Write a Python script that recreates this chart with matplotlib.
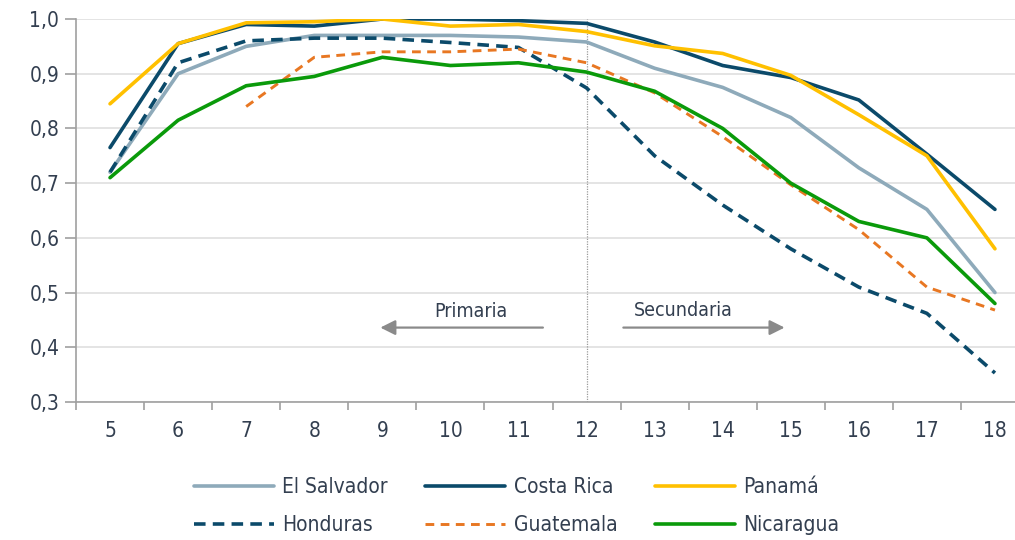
import matplotlib
matplotlib.use('Agg')
import matplotlib.pyplot as plt
import numpy as np

plt.rcParams['font.family'] = ['DejaVu Sans']
plt.rcParams['font.stretch'] = 'condensed'

grades = [5, 6, 7, 8, 9, 10, 11, 12, 13, 14, 15, 16, 17, 18]
el_salvador = [0.72, 0.90, 0.95, 0.97, 0.97, 0.97, 0.967, 0.958, 0.91, 0.875, 0.82, 0.728, 0.652, 0.50]
costa_rica = [0.765, 0.955, 0.99, 0.987, 1.0, 1.0, 0.997, 0.992, 0.958, 0.915, 0.893, 0.852, 0.753, 0.652]
panama = [0.845, 0.955, 0.993, 0.995, 1.0, 0.987, 0.99, 0.977, 0.951, 0.937, 0.897, 0.825, 0.75, 0.58]
honduras = [0.72, 0.92, 0.96, 0.965, 0.965, 0.957, 0.948, 0.874, 0.75, 0.66, 0.58, 0.51, 0.462, 0.353]
guatemala = [None, None, 0.84, 0.93, 0.94, 0.94, 0.945, 0.92, 0.865, 0.785, 0.697, 0.615, 0.51, 0.468]
nicaragua = [0.71, 0.815, 0.878, 0.895, 0.93, 0.915, 0.92, 0.903, 0.868, 0.80, 0.70, 0.63, 0.60, 0.48]

ytick_vals = [0.3, 0.4, 0.5, 0.6, 0.7, 0.8, 0.9, 1.0]
ytick_labels = ['0,3', '0,4', '0,5', '0,6', '0,7', '0,8', '0,9', '1,0']

txt = '#333f50'
fig = plt.figure(figsize=(10.15, 5.4), dpi=100)
ax = fig.add_axes([76/1015, 138/540, 953/1015, 383/540])

def arr(v):
    return np.array([np.nan if a is None else a for a in v], dtype=float)

h_es, = ax.plot(grades, el_salvador, color='#8eaaba', lw=2.6, label='El Salvador', solid_capstyle='round')
h_cr, = ax.plot(grades, costa_rica, color='#0b4a6a', lw=2.6, label='Costa Rica', solid_capstyle='round')
h_pa, = ax.plot(grades, panama, color='#ffc000', lw=2.6, label='Panamá', solid_capstyle='round')
h_ho, = ax.plot(grades, honduras, color='#0b4a6a', lw=2.6, ls=(0, (3.2, 2.0)), label='Honduras')
h_gu, = ax.plot(grades, arr(guatemala), color='#e87722', lw=2.1, ls=(0, (3.0, 2.2)), label='Guatemala')
h_ni, = ax.plot(grades, nicaragua, color='#0a9a0a', lw=2.6, label='Nicaragua', solid_capstyle='round')

ax.axvline(12, color='#9a9a9a', lw=0.9, ls=(0, (1, 1)), zorder=1)

ax.set_xlim(4.5, 18.5)
ax.set_ylim(0.3, 1.0)
ax.set_yticks(ytick_vals)
ax.set_yticklabels(ytick_labels)
ax.set_xticks(grades)
ax.set_xticks(np.arange(4.5, 19, 1), minor=True)
ax.tick_params(axis='x', which='major', length=0, pad=14, labelsize=15, labelcolor=txt)
ax.tick_params(axis='x', which='minor', length=6, color='#a0a0a0', width=1.2)
ax.tick_params(axis='y', length=8, color='#a0a0a0', width=1.2, pad=4, labelsize=15, labelcolor=txt)
ax.yaxis.grid(True, color='#e4e4e4', lw=1.4)
ax.set_axisbelow(True)
for s in ['top', 'right']:
    ax.spines[s].set_visible(False)
for s in ['left', 'bottom']:
    ax.spines[s].set_color('#a0a0a0')
    ax.spines[s].set_linewidth(1.2)

arrow_kw = dict(arrowstyle='-|>,head_length=0.9,head_width=0.45', color='#8a8a8a', lw=1.6)
ax.annotate('', xy=(8.93, 0.436), xytext=(11.4, 0.436), arrowprops=arrow_kw)
ax.annotate('', xy=(14.95, 0.436), xytext=(12.5, 0.436), arrowprops=arrow_kw)
ax.text(10.3, 0.465, 'Primaria', ha='center', va='center', fontsize=14, color=txt)
ax.text(13.42, 0.467, 'Secundaria', ha='center', va='center', fontsize=14, color=txt)

handles = [h_es, h_ho, h_cr, h_gu, h_pa, h_ni]
fig.legend(handles=handles, labels=[h.get_label() for h in handles], ncol=3,
           loc='center', bbox_to_anchor=(0.509, 0.063), frameon=False, fontsize=15,
           labelcolor=txt, handlelength=3.85, columnspacing=1.8, handletextpad=0.4,
           labelspacing=0.85)

fig.savefig('out.png', dpi=100)
